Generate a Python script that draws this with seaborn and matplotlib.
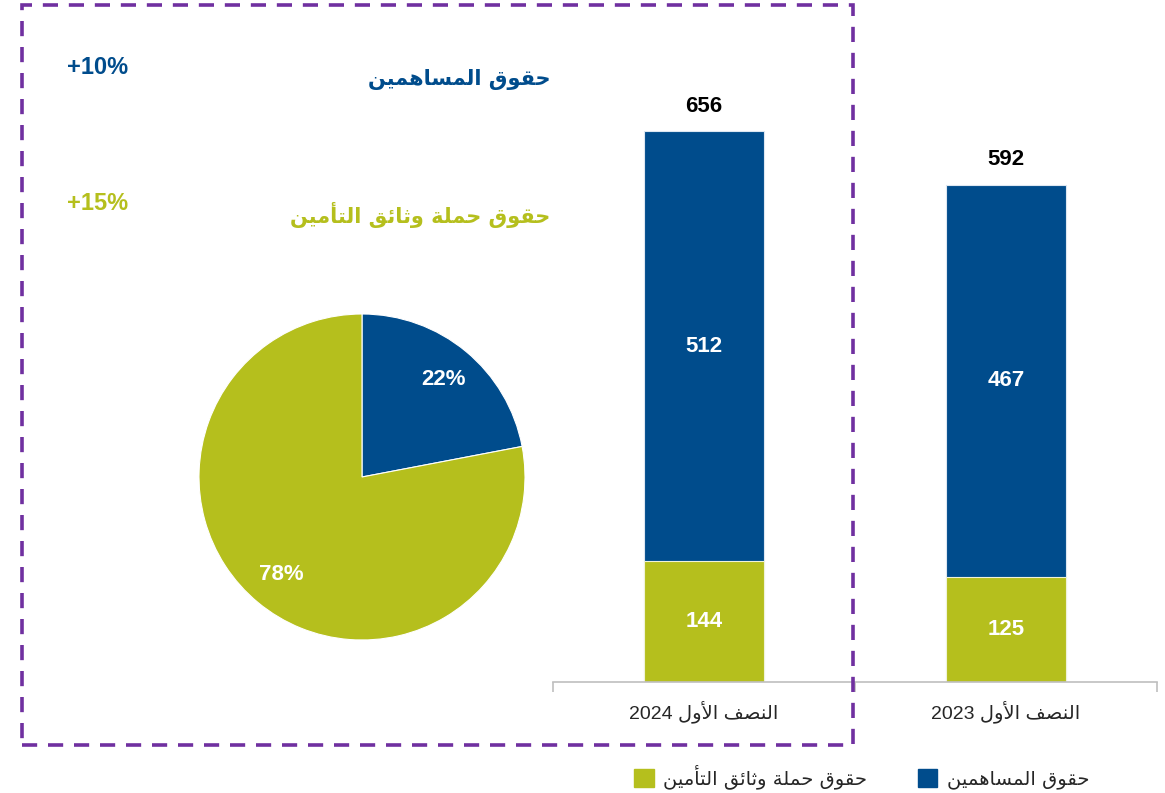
import matplotlib
matplotlib.use("Agg")
import matplotlib.pyplot as plt
from matplotlib.patches import Rectangle, Patch
import seaborn as sns

# Data
periods = ["النصف الأول 2024", "النصف الأول 2023"]
shareholders = [512, 467]
policyholders = [144, 125]
pie_shares = [22, 78]  # shareholders, policyholders (%)
growth = ["+10%", "+15%"]  # shareholders, policyholders

series_names = ["حقوق المساهمين", "حقوق حملة وثائق التأمين"]

BLUE = "#004C8C"
OLIVE = "#B5BF1D"
PURPLE = "#7030A0"
GREY = "#BFBFBF"

# --- tiny Arabic shaper (matplotlib has no text shaping) ---
FORMS = {
    "ا": ("\uFE8D", "\uFE8E", None, None),
    "أ": ("\uFE83", "\uFE84", None, None),
    "و": ("\uFEED", "\uFEEE", None, None),
    "ة": ("\uFE93", "\uFE94", None, None),
    "ل": ("\uFEDD", "\uFEDE", "\uFEDF", "\uFEE0"),
    "ح": ("\uFEA1", "\uFEA2", "\uFEA3", "\uFEA4"),
    "ق": ("\uFED5", "\uFED6", "\uFED7", "\uFED8"),
    "م": ("\uFEE1", "\uFEE2", "\uFEE3", "\uFEE4"),
    "س": ("\uFEB1", "\uFEB2", "\uFEB3", "\uFEB4"),
    "ه": ("\uFEE9", "\uFEEA", "\uFEEB", "\uFEEC"),
    "ي": ("\uFEF1", "\uFEF2", "\uFEF3", "\uFEF4"),
    "ن": ("\uFEE5", "\uFEE6", "\uFEE7", "\uFEE8"),
    "ث": ("\uFE99", "\uFE9A", "\uFE9B", "\uFE9C"),
    "ئ": ("\uFE89", "\uFE8A", "\uFE8B", "\uFE8C"),
    "ت": ("\uFE95", "\uFE96", "\uFE97", "\uFE98"),
    "ص": ("\uFEB9", "\uFEBA", "\uFEBB", "\uFEBC"),
    "ف": ("\uFED1", "\uFED2", "\uFED3", "\uFED4"),
    "لأ": ("\uFEF7", "\uFEF8", None, None),
    "لا": ("\uFEFB", "\uFEFC", None, None),
}


def shape_word(word):
    # split into letters, merging lam-alef
    chars = []
    i = 0
    while i < len(word):
        if word[i] == "ل" and i + 1 < len(word) and word[i:i + 2] in FORMS:
            chars.append(word[i:i + 2])
            i += 2
        else:
            chars.append(word[i])
            i += 1
    out = []
    for k, c in enumerate(chars):
        f = FORMS[c]
        prev_joins = k > 0 and FORMS[chars[k - 1]][2] is not None
        next_joins = f[2] is not None and k + 1 < len(chars)
        if prev_joins and next_joins:
            out.append(f[3])
        elif prev_joins:
            out.append(f[1])
        elif next_joins:
            out.append(f[2])
        else:
            out.append(f[0])
    return "".join(out)


def ar(text):
    words = []
    for w in text.split(" "):
        if any(ch in FORMS for ch in w):
            words.append(shape_word(w)[::-1])
        else:
            words.append(w)
    return " ".join(reversed(words))


sns.set_style("white")
AR_FONT = ["DejaVu Sans"]
NUM_FONT = ["Liberation Sans", "DejaVu Sans"]

W, H = 1165, 793
fig = plt.figure(figsize=(W / 100, H / 100), dpi=100)


def fx(px):
    return px / W


def fy(py):
    return 1 - py / H


# --- stacked bars ---
scale = (682 - 131) / 656.0
ax = fig.add_axes([fx(553), fy(682), fx(1157 - 553), 700 * scale / H])
totals = [s + p for s, p in zip(shareholders, policyholders)]
sns.barplot(x=periods, y=totals, color=BLUE, width=0.4, saturation=1,
            edgecolor="#dde7f1", linewidth=0.8, ax=ax)
sns.barplot(x=periods, y=policyholders, color=OLIVE, width=0.4, saturation=1,
            edgecolor="#f0f3d8", linewidth=0.8, ax=ax)
ax.set_ylim(0, 700)
ax.set_xlim(-0.5, 1.5)
ax.set_ylabel("")
ax.set_yticks([])
for side in ["top", "right", "left"]:
    ax.spines[side].set_visible(False)
ax.spines["bottom"].set_color(GREY)
ax.spines["bottom"].set_linewidth(1.2)
ax.set_xticks(range(len(periods)))
ax.set_xticklabels([ar(p) for p in periods], family=NUM_FONT, fontsize=14)
ax.set_xticks([-0.5, 0.5, 1.5], minor=True)
ax.tick_params(axis="x", which="major", length=0, pad=13)
ax.tick_params(axis="x", which="minor", bottom=True, direction="out",
               length=7, color=GREY, width=1.2)

for i in range(len(periods)):
    ax.annotate(str(totals[i]), (i, totals[i]), xytext=(0, 25),
                textcoords="offset pixels", ha="center", va="center",
                fontsize=16, fontweight="bold", family=NUM_FONT, color="black")
    ax.text(i, policyholders[i] + shareholders[i] / 2, str(shareholders[i]),
            ha="center", va="center", fontsize=16, fontweight="bold",
            family=NUM_FONT, color="white")
    ax.text(i, policyholders[i] / 2, str(policyholders[i]),
            ha="center", va="center", fontsize=16, fontweight="bold",
            family=NUM_FONT, color="white")

# --- pie ---
r = 163
pax = fig.add_axes([fx(362 - r), fy(477 + r), 2 * r / W, 2 * r / H])
pax.pie(pie_shares, colors=[BLUE, OLIVE], startangle=90, counterclock=False,
        autopct="%d%%", pctdistance=0.78,
        textprops=dict(color="white", fontsize=16, fontweight="bold",
                       family=NUM_FONT),
        wedgeprops=dict(linewidth=0.8, edgecolor="white"))
pax.set_xlim(-1, 1)
pax.set_ylim(-1, 1)

# --- growth annotations ---
fig.text(fx(98), fy(67), growth[0], color=BLUE, fontsize=17, fontweight="bold",
         family=NUM_FONT, ha="center", va="center")
fig.text(fx(98), fy(203), growth[1], color=OLIVE, fontsize=17, fontweight="bold",
         family=NUM_FONT, ha="center", va="center")
fig.text(fx(550), fy(79), ar(series_names[0]), color=BLUE, fontsize=15,
         fontweight="bold", family=AR_FONT, ha="right", va="center")
fig.text(fx(550), fy(215), ar(series_names[1]), color=OLIVE, fontsize=15,
         fontweight="bold", family=AR_FONT, ha="right", va="center")

# --- dashed frame ---
fig.patches.append(Rectangle((fx(22), fy(745)), fx(853 - 22), (745 - 5) / H,
                             transform=fig.transFigure, fill=False,
                             edgecolor=PURPLE, linewidth=2.6,
                             linestyle=(0, (4.2, 3.0)), zorder=10))

# --- legend ---
handles = [Patch(color=OLIVE), Patch(color=BLUE)]
labels = [ar(series_names[1]), ar(series_names[0])]
fig.legend(handles, labels, ncol=2, loc="center", bbox_to_anchor=(fx(862), fy(777)),
           frameon=False, handlelength=1.0, handleheight=1.0, handletextpad=0.5,
           columnspacing=2.6, prop=dict(family=AR_FONT, size=14))

fig.savefig("out.png", dpi=100)
